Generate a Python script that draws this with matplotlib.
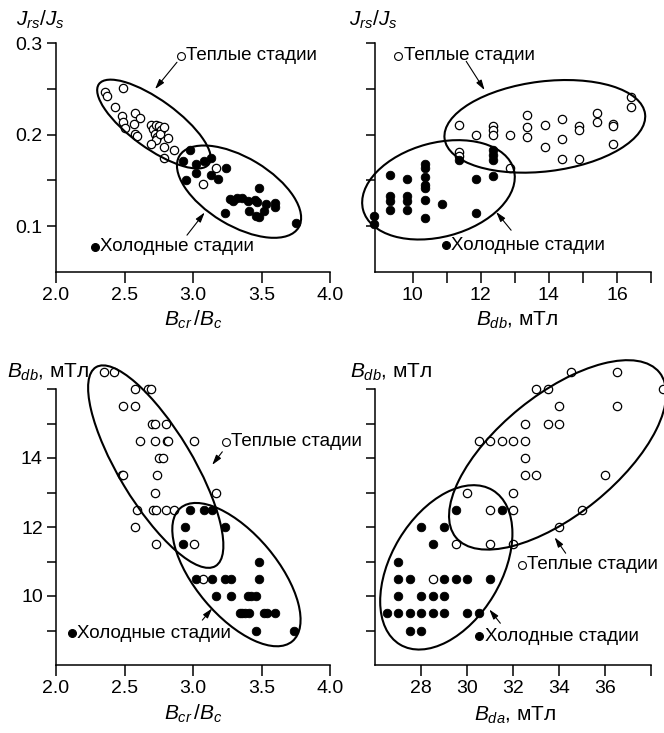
import matplotlib

matplotlib.use("Agg")

import matplotlib.pyplot as plt
import matplotlib.transforms as mtransforms
from matplotlib.patches import Ellipse

plt.rcParams["font.family"] = ["Liberation Sans", "DejaVu Sans"]
plt.rcParams["mathtext.fontset"] = "custom"
plt.rcParams["mathtext.rm"] = "Liberation Sans"
plt.rcParams["mathtext.it"] = "Liberation Sans:italic"

W, H = 664, 733

# ---------------------------------------------------------------------
# Datos
# ---------------------------------------------------------------------
# Panel 1: Bcr/Bc vs Jrs/Js
warm1_x = [2.36, 2.37, 2.49, 2.43, 2.48, 2.49, 2.50, 2.58, 2.61, 2.57, 2.58, 2.59,
           2.69, 2.71, 2.73, 2.75, 2.72, 2.74, 2.77, 2.73, 2.76, 2.79, 2.69, 2.82,
           2.79, 2.86, 2.79, 3.17, 3.07]
warm1_y = [0.247, 0.242, 0.251, 0.230, 0.220, 0.214, 0.207, 0.224, 0.218, 0.212, 0.201, 0.198,
           0.210, 0.206, 0.211, 0.209, 0.201, 0.197, 0.205, 0.194, 0.201, 0.208, 0.190, 0.196,
           0.187, 0.183, 0.174, 0.163, 0.146]
cold1_x = [2.98, 2.93, 3.02, 3.08, 3.13, 3.02, 3.13, 2.95, 3.18, 3.24, 3.48, 3.27, 3.29,
           3.32, 3.36, 3.40, 3.45, 3.47, 3.53, 3.60, 3.60, 3.41, 3.52, 3.48, 3.46, 3.23, 3.75]
cold1_y = [0.183, 0.171, 0.168, 0.171, 0.174, 0.158, 0.156, 0.150, 0.151, 0.164, 0.142, 0.130, 0.127,
           0.131, 0.131, 0.127, 0.129, 0.126, 0.124, 0.125, 0.121, 0.117, 0.117, 0.110, 0.111, 0.114, 0.103]

# Panel 2: Bdb vs Jrs/Js
warm2_x = [11.36, 11.85, 12.36, 12.36, 12.36, 12.87, 11.36, 11.36, 12.87, 13.37, 13.37, 13.37,
           13.88, 13.88, 14.39, 14.39, 14.39, 14.88, 14.88, 14.88, 15.40, 15.40, 15.89, 15.89,
           15.89, 16.40, 16.40]
warm2_y = [0.210, 0.200, 0.209, 0.205, 0.200, 0.200, 0.181, 0.177, 0.164, 0.221, 0.208, 0.197,
           0.210, 0.187, 0.217, 0.195, 0.173, 0.209, 0.205, 0.173, 0.224, 0.214, 0.212, 0.209,
           0.190, 0.241, 0.230]
cold2_x = [8.85, 8.85, 9.34, 9.34, 9.34, 9.34, 9.83, 9.83, 9.83, 9.83, 10.35, 10.35, 10.35,
           10.35, 10.35, 10.35, 10.35, 10.86, 11.36, 11.85, 11.85, 12.36, 12.36, 12.36, 12.36]
cold2_y = [0.111, 0.102, 0.156, 0.133, 0.127, 0.118, 0.152, 0.133, 0.127, 0.118, 0.168, 0.164, 0.154,
           0.145, 0.142, 0.129, 0.109, 0.124, 0.172, 0.151, 0.114, 0.183, 0.178, 0.172, 0.155]

# Panel 3: Bcr/Bc vs Bdb
warm3_x = [2.35, 2.42, 2.58, 2.67, 2.69, 2.49, 2.58, 2.70, 2.72, 2.80, 2.61, 2.72, 2.81, 2.82,
           3.01, 2.75, 2.78, 2.48, 2.49, 2.74, 2.72, 3.17, 2.59, 2.71, 2.73, 2.80, 2.86, 2.58,
           2.73, 3.01, 3.07]
warm3_y = [16.5, 16.5, 16.0, 16.0, 16.0, 15.5, 15.5, 15.0, 15.0, 15.0, 14.5, 14.5, 14.5, 14.5,
           14.5, 14.0, 14.0, 13.5, 13.5, 13.5, 13.0, 13.0, 12.5, 12.5, 12.5, 12.5, 12.5, 12.0,
           11.5, 11.5, 10.5]
cold3_x = [2.98, 3.08, 3.14, 2.94, 3.23, 2.93, 3.48, 3.02, 3.14, 3.23, 3.28, 3.48, 3.17, 3.28,
           3.40, 3.42, 3.46, 3.34, 3.36, 3.38, 3.41, 3.52, 3.54, 3.60, 3.46, 3.74]
cold3_y = [12.5, 12.5, 12.5, 12.0, 12.0, 11.5, 11.0, 10.5, 10.5, 10.5, 10.5, 10.5, 10.0, 10.0,
           10.0, 10.0, 10.0, 9.5, 9.5, 9.5, 9.5, 9.5, 9.5, 9.5, 9.0, 9.0]

# Panel 4: Bda vs Bdb
warm4_x = [34.5, 36.5, 38.5, 33.0, 33.5, 34.0, 36.5, 32.5, 33.5, 34.0, 30.5, 31.0, 31.5, 32.0,
           32.5, 32.5, 32.5, 33.0, 36.0, 30.0, 32.0, 31.0, 32.0, 35.0, 34.0, 29.5, 31.0, 32.0, 28.5]
warm4_y = [16.5, 16.5, 16.0, 16.0, 16.0, 15.5, 15.5, 15.0, 15.0, 15.0, 14.5, 14.5, 14.5, 14.5,
           14.5, 14.0, 13.5, 13.5, 13.5, 13.0, 13.0, 12.5, 12.5, 12.5, 12.0, 11.5, 11.5, 11.5, 10.5]
cold4_x = [29.5, 31.5, 28.0, 29.0, 28.5, 27.0, 27.0, 27.5, 29.0, 29.5, 30.0, 31.0, 27.0, 28.0,
           28.5, 29.0, 26.5, 27.0, 27.5, 28.0, 28.5, 29.0, 30.0, 30.5, 27.5, 28.0]
cold4_y = [12.5, 12.5, 12.0, 12.0, 11.5, 11.0, 10.5, 10.5, 10.5, 10.5, 10.5, 10.5, 10.0, 10.0,
           10.0, 10.0, 9.5, 9.5, 9.5, 9.5, 9.5, 9.5, 9.5, 9.5, 9.0, 9.0]

# Elipses: centro (datos), ancho/alto (px), angulo (grados)
ellipses1 = [((2.715, 0.2115), 136, 48, -36), ((3.336, 0.1377), 139, 68, -31)]
ellipses2 = [((13.88, 0.209), 202, 90, 7), ((10.755, 0.1397), 156, 94, 15)]
ellipses3 = [((2.728, 13.75), 232, 74, -59), ((3.317, 10.62), 174, 82, -50)]
ellipses4 = [((33.94, 14.09), 262, 120, 39), ((29.1, 10.83), 180, 110, 59)]

# Etiquetas: (marcador, inicio de flecha, punta de flecha)
labels1 = [((2.91, 0.286), (2.883, 0.279), (2.723, 0.2497)),
           ((2.283, 0.0774), (2.956, 0.0902), (3.085, 0.115))]
labels2 = [((9.57, 0.286), (11.57, 0.280), (12.11, 0.2486)),
           ((10.97, 0.0792), (12.89, 0.0956), (12.45, 0.1156))]
labels3 = [((3.239, 14.47), (3.214, 14.18), (3.14, 13.80)),
           ((2.115, 8.92), (3.068, 9.30), (3.14, 9.64))]
labels4 = [((32.37, 10.90), (34.29, 11.24), (33.81, 11.70)),
           ((30.52, 8.84), (31.45, 9.21), (30.97, 9.61))]

WARM = "Теплые стадии"
COLD = "Холодные стадии"

fig = plt.figure(figsize=(W / 100, H / 100), dpi=100)


def px_axes(left, top, right, bottom):
    return fig.add_axes([left / W, 1 - bottom / H, (right - left) / W, (bottom - top) / H])


def style(ax, xlim, ylim, xticks, xlabels, yticks, ylabels, xpad):
    ax.set_xlim(*xlim)
    ax.set_ylim(*ylim)
    for s in ("top", "right"):
        ax.spines[s].set_visible(False)
    for s in ("left", "bottom"):
        ax.spines[s].set_linewidth(1.1)
    ax.set_xticks(xticks)
    ax.set_xticklabels(xlabels)
    ax.set_yticks(yticks)
    ax.set_yticklabels(ylabels)
    ax.tick_params(axis="x", direction="out", length=8, width=1.1, pad=xpad, labelsize=14)
    ax.tick_params(axis="y", direction="out", length=6.5, width=1.1, pad=3, labelsize=14)
    ax.patch.set_alpha(0)


def draw(ax, wx, wy, cx, cy, ells, labels):
    ax.scatter(wx, wy, s=36, facecolor="white", edgecolor="black", linewidths=0.9,
               clip_on=False, zorder=3)
    ax.scatter(cx, cy, s=38, facecolor="black", edgecolor="black", linewidths=0.6,
               clip_on=False, zorder=4)
    for (cxy, w, h, ang) in ells:
        tr = fig.dpi_scale_trans + mtransforms.ScaledTranslation(cxy[0], cxy[1], ax.transData)
        e = Ellipse((0, 0), w / 100, h / 100, angle=ang, transform=tr, fill=False,
                    edgecolor="black", linewidth=1.5, clip_on=False, zorder=5)
        ax.add_patch(e)
    for (mk, start, tip), txt, filled in zip(labels, (WARM, COLD), (False, True)):
        ax.scatter([mk[0]], [mk[1]], s=32, facecolor="black" if filled else "white",
                   edgecolor="black", linewidths=0.8, clip_on=False, zorder=3)
        ax.annotate(txt, xy=mk, xytext=(4, 0), textcoords="offset points",
                    ha="left", va="center", fontsize=13.5, annotation_clip=False)
        ax.annotate("", xy=tip, xytext=start, annotation_clip=False,
                    arrowprops=dict(arrowstyle="-|>,head_length=0.6,head_width=0.18",
                                    lw=0.8, color="black", shrinkA=0, shrinkB=0))


ax1 = px_axes(56, 43, 330, 272)
style(ax1, (2.0, 4.0), (0.05, 0.3), [2.0, 2.5, 3.0, 3.5, 4.0], ["2.0", "2.5", "3.0", "3.5", "4.0"],
      [0.1, 0.15, 0.2, 0.25, 0.3], ["0.1", "", "0.2", "", "0.3"], 3)
draw(ax1, warm1_x, warm1_y, cold1_x, cold1_y, ellipses1, labels1)

ax2 = px_axes(375, 43, 651, 272)
style(ax2, (8.89, 17.0), (0.05, 0.3), list(range(10, 18)),
      ["10", "", "12", "", "14", "", "16", ""],
      [0.1, 0.15, 0.2, 0.25, 0.3], [""] * 5, 3)
draw(ax2, warm2_x, warm2_y, cold2_x, cold2_y, ellipses2, labels2)

ax3 = px_axes(56, 389, 330, 665)
style(ax3, (2.0, 4.0), (8.0, 16.0), [2.0, 2.5, 3.0, 3.5, 4.0], ["2.0", "2.5", "3.0", "3.5", "4.0"],
      list(range(9, 17)), ["", "10", "", "12", "", "14", "", ""], 3)
draw(ax3, warm3_x, warm3_y, cold3_x, cold3_y, ellipses3, labels3)

ax4 = px_axes(375, 389, 651, 665)
style(ax4, (26.0, 38.0), (8.0, 16.0), list(range(28, 39, 2)),
      ["28", "30", "32", "34", "36", ""],
      list(range(9, 17)), [""] * 8, 3)
draw(ax4, warm4_x, warm4_y, cold4_x, cold4_y, ellipses4, labels4)


def ftext(x, y, s, ha="center"):
    fig.text(x / W, 1 - y / H, s, ha=ha, va="center", fontsize=15)


ftext(40, 20, r"$J_{rs}/J_s$")
ftext(373, 20, r"$J_{rs}/J_s$")
ftext(193, 320, r"$B_{cr}\,/B_c$")
ftext(517, 320, r"$B_{db}$, мТл")
ftext(7, 372, r"$B_{db}$, мТл", ha="left")
ftext(350, 372, r"$B_{db}$, мТл", ha="left")
ftext(193, 714, r"$B_{cr}\,/B_c$")
ftext(515, 715, r"$B_{da}$, мТл")

fig.savefig("out.png", dpi=100)
